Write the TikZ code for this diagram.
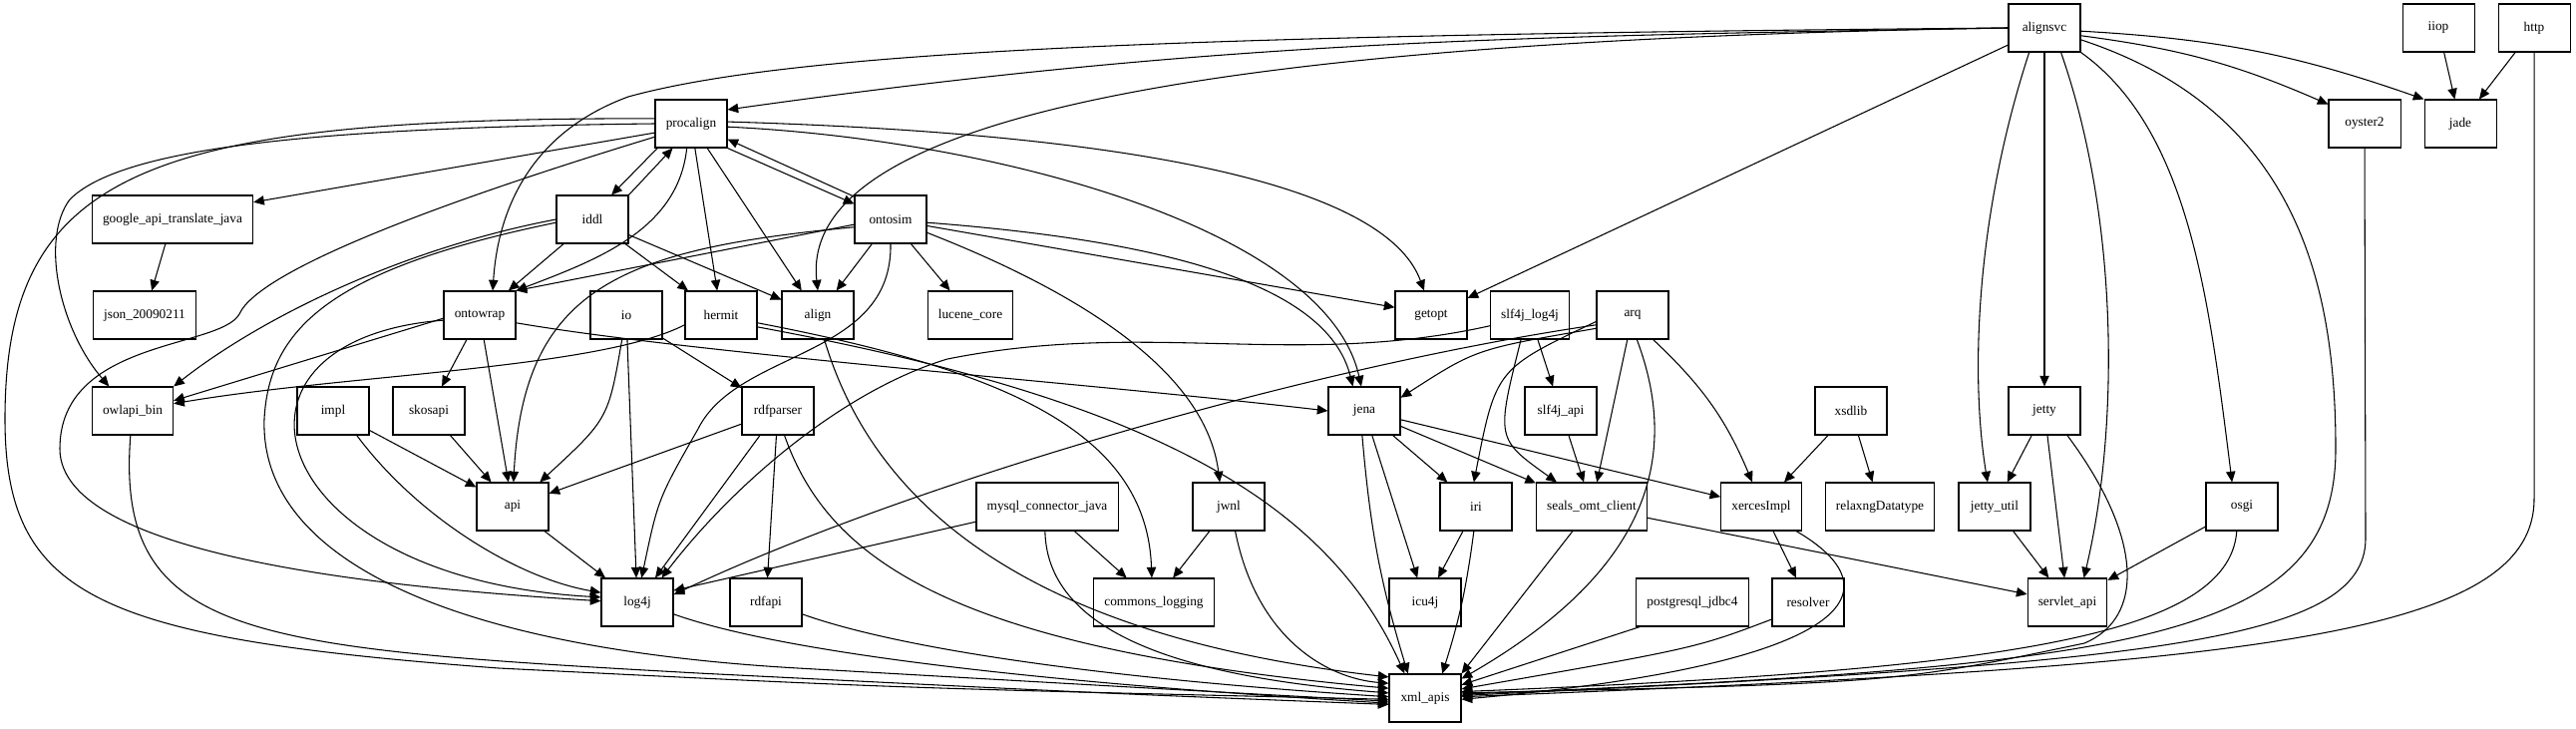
\documentclass[tikz,border=0pt]{standalone}
\usepackage{fontspec}
\setmainfont{Liberation Serif}
\usetikzlibrary{arrows.meta}

\begin{document}
\begin{tikzpicture}[
    x=0.75pt, y=0.75pt,
    line width=0.8pt,
    >={Triangle[length=8pt,width=7pt]},
    every node/.style={draw, rectangle, minimum width=54pt, minimum height=36pt,
      inner xsep=8pt, font=\fontsize{10}{12}\selectfont},
  ]
  \useasboundingbox (0,0) rectangle (2583,-731);

  % rank 0
  \node (alignsvc) at (2050,-28) {alignsvc};
  \node (iiop) at (2445,-28) {iiop};
  \node (http) at (2541,-28) {http};
  % rank 1
  \node (procalign) at (693,-124) {procalign};
  \node (oyster) at (2371,-124) {oyster2};
  \node (jade) at (2467,-124) {jade};
  % rank 2
  \node (gtrans) at (173,-220) {google\_api\_translate\_java};
  \node (iddl) at (594,-220) {iddl};
  \node (ontosim) at (893,-220) {ontosim};
  % rank 3
  \node (json) at (145,-316) {json\_20090211};
  \node (ontowrap) at (481,-316) {ontowrap};
  \node (io) at (628,-316) {io};
  \node (hermit) at (723,-316) {hermit};
  \node (align) at (820,-316) {align};
  \node (lucene) at (973,-316) {lucene\_core};
  \node (getopt) at (1435,-316) {getopt};
  \node (slflog) at (1534,-316) {slf4j\_log4j};
  \node (arq) at (1637,-316) {arq};
  % rank 4
  \node (owlapi) at (133,-412) {owlapi\_bin};
  \node (impl) at (334,-412) {impl};
  \node (skosapi) at (430,-412) {skosapi};
  \node (rdfparser) at (780,-412) {rdfparser};
  \node (jena) at (1368,-412) {jena};
  \node (slfapi) at (1565,-412) {slf4j\_api};
  \node (xsdlib) at (1856,-412) {xsdlib};
  \node (jetty) at (2050,-412) {jetty};
  % rank 5
  \node (api) at (514,-508) {api};
  \node (mysql) at (1050,-508) {mysql\_connector\_java};
  \node (jwnl) at (1232,-508) {jwnl};
  \node (iri) at (1480,-508) {iri};
  \node (seals) at (1596,-508) {seals\_omt\_client};
  \node (xerces) at (1766,-508) {xercesImpl};
  \node (relaxng) at (1885,-508) {relaxngDatatype};
  \node (jettyutil) at (2000,-508) {jetty\_util};
  \node (osgi) at (2248,-508) {osgi};
  % rank 6
  \node (log4j) at (639,-604) {log4j};
  \node (rdfapi) at (768,-604) {rdfapi};
  \node (cmlog) at (1157,-604) {commons\_logging};
  \node (icu4j) at (1429,-604) {icu4j};
  \node (pgsql) at (1697,-604) {postgresql\_jdbc4};
  \node (resolver) at (1813,-604) {resolver};
  \node (servlet) at (2073,-604) {servlet\_api};
  % rank 7
  \node (xmlapis) at (1429,-700) {xml\_apis};

  % alignsvc
  \draw[->] (alignsvc.west) to[out=181,in=8] (procalign.21);
  \draw[->] (alignsvc.west) .. controls (1200,-35) and (800,-50) .. (630,-97)
    .. controls (540,-130) and (500,-200) .. (ontowrap.62);
  \draw[->] (alignsvc.west) .. controls (1250,-40) and (800,-110) .. (align.north);
  \draw[->] (alignsvc) -- (getopt);
  \draw[->] (alignsvc.238) .. controls (1980,-220) and (1976,-380) .. (jettyutil.106);
  \draw[->] (alignsvc) -- (jetty);
  \draw[->] (alignsvc.304) .. controls (2125,-220) and (2125,-430) .. (servlet.56);
  \draw[->] (alignsvc.south east) .. controls (2195,-130) and (2215,-300) .. (osgi.112);
  \draw[->] (alignsvc.-18) .. controls (2300,-110) and (2342,-280) .. (2342,-450)
    .. controls (2342,-640) and (2150,-668) .. (xmlapis.6);
  \draw[->] (alignsvc.-12) to[bend left=8] (oyster.152);
  \draw[->] (alignsvc.-5) to[bend left=8] (jade.north west);
  \draw[->] (iiop) -- (jade);
  \draw[->] (http) -- (jade);
  \draw[->] (http.south) -- (2541,-500) .. controls (2541,-640) and (2250,-668) .. (xmlapis.2);
  \draw[->] (oyster.south) -- (2372,-540) .. controls (2372,-645) and (2150,-665) .. (xmlapis.4);

  % procalign
  \draw[->] (procalign.216) -- (iddl.52);
  \draw[->] (iddl.north east) -- (procalign.233);
  \draw[->] (procalign.south east) -- (ontosim.157);
  \draw[->] (ontosim.148) -- (procalign.-23);
  \draw[->] (procalign.194) -- (gtrans.12);
  \draw[->] (procalign.west) .. controls (300,-128) and (120,-150) .. (70,-200)
    .. controls (40,-240) and (60,-330) .. (owlapi.134);
  \draw[->] (procalign.172) .. controls (150,-118) and (5,-170) .. (5,-420)
    .. controls (5,-600) and (100,-640) .. (500,-670) .. controls (900,-690) .. (xmlapis.182);
  \draw[->] (procalign.200) .. controls (450,-200) and (260,-270) .. (240,-315)
    .. controls (220,-350) and (60,-340) .. (60,-450) .. controls (60,-560) and (400,-590) .. (log4j.178);
  \draw[->] (procalign) -- (hermit);
  \draw[->] (procalign) -- (align);
  \draw[->] (procalign.260) .. controls (680,-230) and (600,-260) .. (ontowrap.north east);
  \draw[->] (procalign.3) .. controls (1000,-130) and (1380,-160) .. (getopt.106);
  \draw[->] (procalign.-5) .. controls (1000,-140) and (1330,-230) .. (jena.97);

  % iddl
  \draw[->] (iddl) -- (ontowrap);
  \draw[->] (iddl) -- (hermit);
  \draw[->] (iddl) -- (align);
  \draw[->] (iddl.west) .. controls (400,-250) and (260,-320) .. (owlapi.north east);
  \draw[->] (iddl.185) .. controls (330,-270) and (270,-330) .. (265,-420)
    .. controls (260,-560) and (450,-650) .. (800,-670) .. controls (1150,-690) .. (xmlapis.185);

  % ontosim
  \draw[->] (ontosim.188) -- (ontowrap.north east);
  \draw[->] (ontosim.192) .. controls (620,-250) and (525,-290) .. (api.88);
  \draw[->] (ontosim) -- (align);
  \draw[->] (ontosim) -- (lucene);
  \draw[->] (ontosim.-10) -- (getopt.168);
  \draw[->] (ontosim.-5) .. controls (1150,-240) and (1330,-280) .. (jena.115);
  \draw[->] (ontosim.-20) .. controls (1100,-300) and (1210,-380) .. (jwnl.110);
  \draw[->] (ontosim.south) .. controls (895,-360) and (740,-350) .. (700,-430)
    .. controls (660,-500) .. (log4j.80);

  % ontowrap
  \draw[->] (ontowrap) -- (skosapi);
  \draw[->] (ontowrap) -- (api);
  \draw[->] (ontowrap.185) -- (owlapi.14);
  \draw[->] (ontowrap.188) .. controls (200,-340) and (260,-580) .. (log4j.172);
  \draw[->] (ontowrap.-12) .. controls (700,-355) and (1100,-385) .. (jena.west);

  % hermit, align, io
  \draw[->] (hermit.195) .. controls (600,-370) and (350,-375) .. (owlapi.10);
  \draw[->] (hermit.-12) .. controls (1000,-370) and (1150,-430) .. (cmlog.95);
  \draw[->] (hermit.-18) .. controls (1150,-400) and (1330,-500) .. (xmlapis.130);
  \draw[->] (align.-75) .. controls (880,-520) and (1050,-640) .. (xmlapis.150);
  \draw[->] (io.260) .. controls (610,-420) .. (api.42);
  \draw[->] (io) -- (log4j);
  \draw[->] (io) -- (rdfparser);

  % rank 4 left
  \draw[->] (gtrans) -- (json);
  \draw[->] (rdfparser) -- (api);
  \draw[->] (rdfparser) -- (log4j);
  \draw[->] (rdfparser) -- (rdfapi);
  \draw[->] (rdfparser.-75) .. controls (830,-560) and (950,-650) .. (xmlapis.165);
  \draw[->] (impl) -- (api);
  \draw[->] (impl.-46) .. controls (420,-520) and (520,-580) .. (log4j.165);
  \draw[->] (skosapi) -- (api);
  \draw[->] (api) -- (log4j);
  \draw[->] (log4j.-18) .. controls (800,-660) and (1100,-688) .. (xmlapis.188);
  \draw[->] (rdfapi.-18) .. controls (900,-650) and (1100,-680) .. (xmlapis.178);
  \draw[->] (owlapi.265) .. controls (115,-640) and (250,-650) .. (700,-675)
    .. controls (1100,-695) .. (xmlapis.190);

  % jena, arq, slf4j
  \draw[->] (jena) -- (iri);
  \draw[->] (jena) -- (seals);
  \draw[->] (jena) -- (xerces);
  \draw[->] (jena) -- (icu4j);
  \draw[->] (jena.265) to[bend right=6] (xmlapis.125);
  \draw[->] (arq.200) .. controls (1480,-350) .. (jena.20);
  \draw[->] (arq.195) .. controls (1300,-370) and (900,-490) .. (log4j.12);
  \draw[->] (arq.190) .. controls (1500,-370) .. (iri.95);
  \draw[->] (arq) -- (seals);
  \draw[->] (arq.-50) to[bend left=12] (xerces.110);
  \draw[->] (arq.-80) .. controls (1690,-470) and (1640,-580) .. (xmlapis.28);
  \draw[->] (slflog) -- (slfapi);
  \draw[->] (slflog.250) .. controls (1500,-440) .. (seals.145);
  \draw[->] (slflog.195) .. controls (1300,-370) and (1150,-320) .. (950,-360)
    .. controls (850,-390) and (740,-480) .. (log4j.45);
  \draw[->] (slfapi) -- (seals);
  \draw[->] (seals) -- (xmlapis.north east);
  \draw[->] (seals) -- (servlet);
  \draw[->] (iri) -- (icu4j);
  \draw[->] (iri.265) to[bend left=5] (xmlapis.55);

  % mysql, jwnl
  \draw[->] (mysql.192) -- (log4j.18);
  \draw[->] (mysql) -- (cmlog);
  \draw[->] (mysql.265) .. controls (1050,-640) and (1200,-680) .. (xmlapis.172);
  \draw[->] (jwnl) -- (cmlog);
  \draw[->] (jwnl.-75) .. controls (1260,-640) and (1330,-680) .. (xmlapis.158);

  % right part
  \draw[->] (xsdlib) -- (xerces);
  \draw[->] (xsdlib) -- (relaxng);
  \draw[->] (xerces) -- (resolver);
  \draw[->] (xerces.-35) .. controls (1900,-590) and (1870,-665) .. (xmlapis.-2);
  \draw[->] (resolver.205) .. controls (1700,-650) .. (xmlapis.14);
  \draw[->] (pgsql.205) -- (xmlapis.20);
  \draw[->] (jetty) -- (jettyutil);
  \draw[->] (jetty) -- (servlet);
  \draw[->] (jettyutil) -- (servlet);
  \draw[->] (osgi) -- (servlet);
  \draw[->] (jetty.-47) .. controls (2150,-540) and (2150,-620) .. (2090,-645)
    .. controls (1900,-685) .. (xmlapis.8);
  \draw[->] (osgi.258) .. controls (2235,-640) and (2000,-672) .. (xmlapis.10);
\end{tikzpicture}
\end{document}
